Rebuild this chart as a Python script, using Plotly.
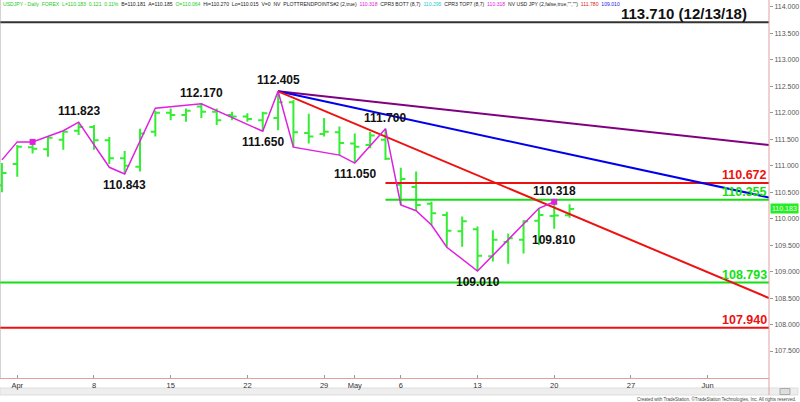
import plotly.graph_objects as go

# ---------------- data ----------------
dates = ["2019-03-29",
         "2019-04-01", "2019-04-02", "2019-04-03", "2019-04-04", "2019-04-05",
         "2019-04-08", "2019-04-09", "2019-04-10", "2019-04-11", "2019-04-12",
         "2019-04-15", "2019-04-16", "2019-04-17", "2019-04-18", "2019-04-19",
         "2019-04-22", "2019-04-23", "2019-04-24", "2019-04-25", "2019-04-26",
         "2019-04-29", "2019-04-30", "2019-05-01", "2019-05-02", "2019-05-03",
         "2019-05-06", "2019-05-07", "2019-05-08", "2019-05-09", "2019-05-10",
         "2019-05-13", "2019-05-14", "2019-05-15", "2019-05-16", "2019-05-17",
         "2019-05-20", "2019-05-21"]
opens = [110.63, 111.03, 111.35, 111.31, 111.49, 111.66, 111.73, 111.48, 111.14, 110.98, 111.64,
         112.00, 111.96, 112.12, 112.02, 111.96, 111.93, 111.86, 111.90, 112.20, 111.62,
         111.60, 111.63, 111.42, 111.39, 111.49, 110.64, 110.60, 110.28, 110.07, 109.76,
         109.80, 109.29, 109.56, 109.60, 109.96, 110.05, 110.064]
highs = [111.05, 111.39, 111.44, 111.56, 111.66, 111.823, 111.77, 111.54, 111.28, 111.70, 112.04,
         112.08, 112.08, 112.17, 112.08, 112.02, 111.99, 112.02, 112.405, 112.24, 111.98,
         111.90, 111.74, 111.61, 111.64, 111.70, 110.96, 110.89, 110.32, 110.13, 110.04,
         109.85, 109.78, 109.72, 109.97, 110.19, 110.318, 110.27]
lows = [110.50, 110.79, 111.23, 111.17, 111.30, 111.58, 111.30, 111.03, 110.843, 110.89, 111.55,
        111.86, 111.83, 111.90, 111.77, 111.86, 111.83, 111.65, 111.67, 111.35, 111.42,
        111.55, 111.20, 111.05, 111.33, 111.11, 110.26, 110.15, 109.88, 109.47, 109.47,
        109.01, 109.19, 109.15, 109.34, 109.50, 109.81, 110.015]
closes = [110.86, 111.36, 111.32, 111.53, 111.64, 111.73, 111.48, 111.14, 111.00, 111.61, 112.00,
          111.96, 112.04, 112.02, 111.86, 111.93, 111.88, 111.99, 112.20, 111.63, 111.55,
          111.64, 111.43, 111.36, 111.57, 111.13, 110.75, 110.26, 110.10, 109.77, 109.95,
          109.30, 109.60, 109.63, 109.95, 110.07, 110.06, 110.183]

# swing (trend point) line
swing_dates = ["2019-03-29", "2019-04-01", "2019-04-02", "2019-04-04", "2019-04-05", "2019-04-09",
               "2019-04-10", "2019-04-12", "2019-04-17", "2019-04-23", "2019-04-24", "2019-04-25",
               "2019-04-30", "2019-05-01", "2019-05-03", "2019-05-06", "2019-05-07", "2019-05-08",
               "2019-05-09", "2019-05-13", "2019-05-17", "2019-05-20"]
swing_vals = [111.11, 111.45, 111.45, 111.66, 111.823, 110.97, 110.843, 112.085, 112.170, 111.650,
              112.405, 111.35, 111.20, 111.050, 111.700, 110.26, 110.15, 109.88, 109.46, 109.010,
              110.195, 110.318]
dot_dates = ["2019-04-02", "2019-05-20"]
dot_vals = [111.45, 110.318]

# pivot labels
pivot_dates = ["2019-04-05", "2019-04-10", "2019-04-17", "2019-04-23", "2019-04-24",
               "2019-05-01", "2019-05-03", "2019-05-13", "2019-05-20", "2019-05-20"]
pivot_vals = [111.823, 110.843, 112.170, 111.650, 112.405, 111.050, 111.700, 109.010, 110.318, 109.810]
pivot_above = [True, False, True, False, True, False, True, False, True, False]

# trend lines from the 112.405 top
trend_start = ("2019-04-24", 112.405)
trend_end_date = "2019-06-07"
trend_end_vals = [111.39, 110.40, 108.50]
trend_colors = ["#800080", "#0000ee", "#ee1111"]

# horizontal levels
level_vals = [113.710, 110.672, 110.355, 108.793, 107.940]
level_starts = ["2019-03-28 21:00", "2019-05-03", "2019-05-03", "2019-03-28 21:00", "2019-03-28 21:00"]
level_colors = ["#333333", "#ee1111", "#11e011", "#11e011", "#ee1111"]
level_texts = ["113.710 (12/13/18)", "110.672", "110.355", "108.793", "107.940"]

x_tick_dates = ["2019-04-01", "2019-04-08", "2019-04-15", "2019-04-22", "2019-04-29", "2019-05-01",
                "2019-05-06", "2019-05-13", "2019-05-20", "2019-05-27", "2019-06-03"]
x_tick_text = ["Apr", "8", "15", "22", "29", "May", "6", "13", "20", "27", "Jun"]
y_ticks = [107.5, 108.0, 108.5, 109.0, 109.5, 110.0, 110.5, 111.0, 111.5, 112.0, 112.5, 113.0, 113.5, 114.0]
last_price = 110.183

X0, X1 = "2019-03-28 21:00", "2019-06-07"
FONT = "Liberation Sans, Arial, sans-serif"

fig = go.Figure()

# levels
for v, s, c in zip(level_vals, level_starts, level_colors):
    fig.add_trace(go.Scatter(x=[s, X1], y=[v, v], mode="lines",
                             line=dict(color=c, width=2), hoverinfo="skip", showlegend=False))

# trend lines
for ev, c in zip(trend_end_vals, trend_colors):
    fig.add_trace(go.Scatter(x=[trend_start[0], trend_end_date], y=[trend_start[1], ev], mode="lines",
                             line=dict(color=c, width=2), hoverinfo="skip", showlegend=False))

# bars
fig.add_trace(go.Ohlc(x=dates, open=opens, high=highs, low=lows, close=closes,
                      increasing=dict(line=dict(color="#33ee33", width=2)),
                      decreasing=dict(line=dict(color="#33ee33", width=2)),
                      tickwidth=0.3, showlegend=False, hoverinfo="skip"))

# swing line
fig.add_trace(go.Scatter(x=swing_dates, y=swing_vals, mode="lines",
                         line=dict(color="#e020e0", width=1.5), hoverinfo="skip", showlegend=False))
fig.add_trace(go.Scatter(x=dot_dates, y=dot_vals, mode="markers",
                         marker=dict(color="#e020e0", size=6, symbol="square"),
                         hoverinfo="skip", showlegend=False))

annotations = []
for d, v, up in zip(pivot_dates, pivot_vals, pivot_above):
    annotations.append(dict(x=d, y=v, xref="x", yref="y", text="<b>%.3f</b>" % v, showarrow=False,
                            yanchor="bottom" if up else "top", yshift=2 if up else -2,
                            font=dict(family=FONT, size=12, color="#111111")))

for v, c, t in zip(level_vals, level_colors, level_texts):
    if v == 113.710:
        annotations.append(dict(x=686 / 771, xref="paper", y=v, yref="y", text="<b>%s</b>" % t,
                                showarrow=False, xanchor="center", yanchor="bottom", yshift=-2,
                                font=dict(family=FONT, size=15, color="#111111")))
    else:
        annotations.append(dict(x=1, xref="paper", y=v, yref="y", text="<b>%s</b>" % t,
                                showarrow=False, xanchor="right", yanchor="bottom", yshift=-1,
                                font=dict(family=FONT, size=12.5, color=c)))

# last price box
annotations.append(dict(x=1, xref="paper", y=last_price, yref="y", text="%.3f" % last_price,
                        showarrow=False, xanchor="left", yanchor="middle", xshift=1,
                        bgcolor="#22ee22", borderpad=1,
                        font=dict(family=FONT, size=7, color="#ffffff")))

# header
header = ("<span style='color:#22cc22'>USDJPY - Daily  FOREX  L=110.183  0.121  0.11%</span>  "
          "B=110.181  A=110.185  <span style='color:#22cc22'>O=110.064</span>  Hi=110.270  Lo=110.015  "
          "V=0  NV  PLOTTRENDPOINTS#2 (2,true)  <span style='color:#dd22dd'>110.318</span>  "
          "CPR3 BOT7 (8,7)  <span style='color:#22cccc'>110.295</span>  CPR3 TOP7 (8,7)  "
          "<span style='color:#dd22dd'>110.318</span>  NV USD JPY (2,false,true,\"\",\"\")  "
          "<span style='color:#dd2222'>111.780</span>  <span style='color:#2222dd'>109.010</span>")
annotations.append(dict(x=0, xref="paper", y=1, yref="paper", text=header, showarrow=False,
                        xanchor="left", yanchor="top", yshift=1, xshift=1,
                        font=dict(family=FONT, size=5.1, color="#222222")))

# credits
annotations.append(dict(x=800 / 771, xref="paper", y=-24 / 378, yref="paper",
                        text="Created with TradeStation. ©TradeStation Technologies, Inc. All rights reserved.",
                        showarrow=False, xanchor="right", yanchor="bottom", yshift=-2,
                        font=dict(family=FONT, size=4.5, color="#444444")))

shapes = [
    # left frame
    dict(type="line", xref="paper", yref="paper", x0=0, x1=0, y0=0, y1=1,
         line=dict(color="#aaaaaa", width=1)),
    # right axis line extended
    dict(type="line", xref="paper", yref="paper", x0=1, x1=1, y0=-17 / 378, y1=1,
         line=dict(color="#e0a0a0", width=1)),
    # scrollbar
    dict(type="rect", xref="paper", yref="paper", x0=0, x1=800 / 771, y0=-17 / 378, y1=-10 / 378,
         fillcolor="#eeeeee", line=dict(color="#dddddd", width=1), layer="below"),
    dict(type="rect", xref="paper", yref="paper", x0=782 / 771, x1=792 / 771, y0=-16.5 / 378, y1=-10.5 / 378,
         fillcolor="#dddddd", line=dict(color="#aaaaaa", width=1), layer="below"),
]

fig.update_layout(
    width=800, height=402,
    margin=dict(l=0, r=29, t=0, b=24),
    paper_bgcolor="white", plot_bgcolor="white",
    showlegend=False,
    annotations=annotations,
    shapes=shapes,
    font=dict(family=FONT),
    xaxis=dict(type="date", range=[X0, X1],
               rangebreaks=[dict(bounds=["sat", "mon"])],
               rangeslider=dict(visible=False),
               tickvals=x_tick_dates, ticktext=x_tick_text,
               ticks="inside", ticklen=3, tickcolor="#999999",
               tickfont=dict(family=FONT, size=7.5, color="#333333"),
               showgrid=False, zeroline=False,
               showline=True, linecolor="#e0a0a0", linewidth=1),
    yaxis=dict(side="right", range=[106.99, 114.13],
               tickvals=y_ticks, ticktext=["%.3f" % v for v in y_ticks],
               ticks="outside", ticklen=3, tickcolor="#999999",
               tickfont=dict(family=FONT, size=7, color="#555555"),
               showgrid=False, zeroline=False, showline=False),
)

fig.write_html("out.html", config={"displayModeBar": False},
               post_script="document.body.style.margin='0';document.body.style.overflow='hidden';")
